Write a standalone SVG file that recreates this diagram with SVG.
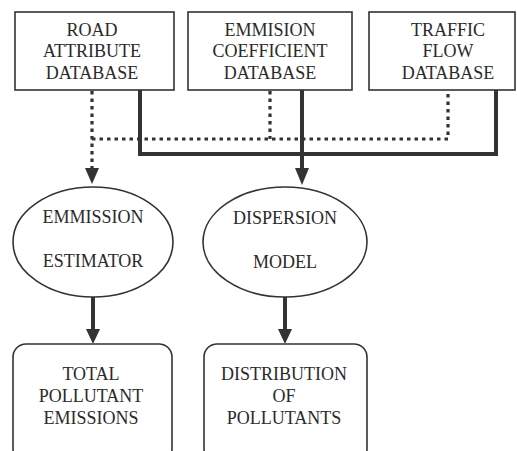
<svg xmlns="http://www.w3.org/2000/svg" width="517" height="451" viewBox="0 0 517 451">
<defs>
<style>
.box{fill:#fff;stroke:#333;stroke-width:1.6}
.t{font-family:"Liberation Serif","Times New Roman",serif;font-size:18px;fill:#2a2a2a;text-anchor:middle}
.dot{fill:none;stroke:#333;stroke-width:3.2;stroke-dasharray:3.5 4}
.sol{fill:none;stroke:#333;stroke-width:4}
.ah{fill:#333}
</style>
</defs>
<rect width="517" height="451" fill="#fff"/>
<g id="connectors">
<path class="dot" d="M92 91 V170"/>
<path class="dot" d="M92 139 H448 V91"/>
<path class="dot" d="M270 91 V139"/>
<path class="sol" d="M140 90 V154 H496 V90"/>
<path class="sol" d="M302 90 V170"/>
<path class="sol" d="M93 297 V332"/>
<path class="sol" d="M285 297 V332"/>
<polygon class="ah" points="85,168 99,168 92,184"/>
<polygon class="ah" points="295,168 309,168 302,185"/>
<polygon class="ah" points="86,329 100,329 93,344"/>
<polygon class="ah" points="278,329 292,329 285,344"/>
</g>
<g id="road">
<rect class="box" x="15" y="12" width="159" height="78"/>
<text class="t" x="92" y="36">ROAD</text>
<text class="t" x="92" y="57">ATTRIBUTE</text>
<text class="t" x="92" y="79">DATABASE</text>
</g>
<g id="emission-db">
<rect class="box" x="188" y="12" width="164" height="78"/>
<text class="t" x="270" y="36">EMMISION</text>
<text class="t" x="270" y="57">COEFFICIENT</text>
<text class="t" x="270" y="79">DATABASE</text>
</g>
<g id="traffic">
<rect class="box" x="369" y="12" width="146" height="78"/>
<text class="t" x="448" y="36">TRAFFIC</text>
<text class="t" x="448" y="57">FLOW</text>
<text class="t" x="448" y="79">DATABASE</text>
</g>
<g id="estimator">
<ellipse class="box" cx="93" cy="242" rx="80" ry="55"/>
<text class="t" x="93" y="223">EMMISSION</text>
<text class="t" x="93" y="267">ESTIMATOR</text>
</g>
<g id="dispersion">
<ellipse class="box" cx="285" cy="242" rx="82" ry="55"/>
<text class="t" x="285" y="224">DISPERSION</text>
<text class="t" x="285" y="268">MODEL</text>
</g>
<g id="total">
<rect class="box" x="13" y="344" width="159" height="118" rx="13"/>
<text class="t" x="91" y="380">TOTAL</text>
<text class="t" x="91" y="402">POLLUTANT</text>
<text class="t" x="91" y="424">EMISSIONS</text>
</g>
<g id="distribution">
<rect class="box" x="204" y="344" width="163" height="118" rx="13"/>
<text class="t" x="284" y="380">DISTRIBUTION</text>
<text class="t" x="284" y="402">OF</text>
<text class="t" x="284" y="424">POLLUTANTS</text>
</g>
</svg>
